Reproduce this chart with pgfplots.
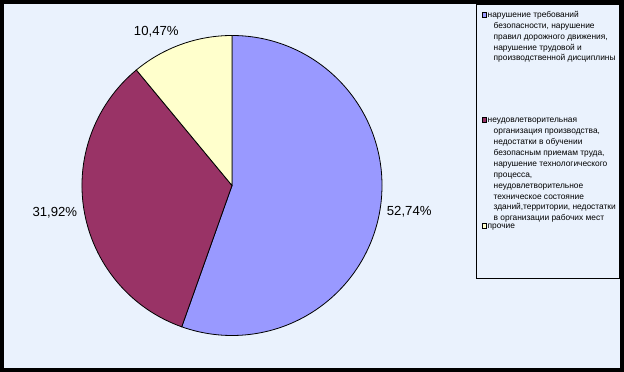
\documentclass[border=0pt]{standalone}
\usepackage{pgfplots}
\pgfplotsset{compat=1.18}
\usepackage{pgfplotstable}
\usepackage{fontspec}
\setmainfont{Liberation Sans}
\definecolor{bgc}{HTML}{EAF2FD}
\definecolor{sblue}{HTML}{9999FF}
\definecolor{smaroon}{HTML}{993366}
\definecolor{syellow}{HTML}{FFFFCC}

\pgfplotstableread{
value
52.74
31.92
10.47
}\piedata
\pgfplotstablegetelem{0}{value}\of\piedata \edef\va{\pgfplotsretval}
\pgfplotstablegetelem{1}{value}\of\piedata \edef\vb{\pgfplotsretval}
\pgfplotstablegetelem{2}{value}\of\piedata \edef\vc{\pgfplotsretval}
\pgfmathsetmacro\sumv{\va+\vb+\vc}
\pgfmathsetmacro\aA{90}
\pgfmathsetmacro\aB{90-360*(\va/\sumv)}
\pgfmathsetmacro\aC{\aB-360*(\vb/\sumv)}
\pgfmathsetmacro\aD{\aC-360*(\vc/\sumv)}
\pgfmathsetmacro\mA{(\aA+\aB)/2}
\pgfmathsetmacro\mB{(\aB+\aC)/2}
\pgfmathsetmacro\mC{(\aC+\aD)/2}
\def\cx{232}\def\cy{186.5}\def\R{150}\def\RL{157}
\pgfmathsetmacro\xA{\cx+\R*cos(\aA)}\pgfmathsetmacro\yA{\cy+\R*sin(\aA)}
\pgfmathsetmacro\xB{\cx+\R*cos(\aB)}\pgfmathsetmacro\yB{\cy+\R*sin(\aB)}
\pgfmathsetmacro\xC{\cx+\R*cos(\aC)}\pgfmathsetmacro\yC{\cy+\R*sin(\aC)}
\pgfmathsetmacro\lxA{\cx+\RL*cos(\mA)}\pgfmathsetmacro\lyA{\cy+\RL*sin(\mA)}
\pgfmathsetmacro\lxB{\cx+\RL*cos(\mB)}\pgfmathsetmacro\lyB{\cy+\RL*sin(\mB)}
\pgfmathsetmacro\lxC{\cx+\RL*cos(\mC)}\pgfmathsetmacro\lyC{\cy+\RL*sin(\mC)}
\tikzset{leg/.style={anchor=base west,inner sep=0,font=\fontsize{8.4}{10}\selectfont},
  pct/.style={inner sep=0,font=\fontsize{13.2}{15}\selectfont}}

\begin{document}
\begin{tikzpicture}
\begin{axis}[at={(0,0)},anchor=south west,scale only axis,width=624bp,height=372bp,
  xmin=0,xmax=624,ymin=0,ymax=372,hide axis,clip=false]
\fill[black] (axis cs:0,0) rectangle (axis cs:624,372);
\fill[bgc] (axis cs:4,3.5) rectangle (axis cs:620,368);
% slices
\filldraw[fill=sblue,draw=black,line width=0.8bp] (axis cs:\cx,\cy) -- (axis cs:\xA,\yA) arc[start angle=\aA,end angle=\aB,radius=\R] -- cycle;
\filldraw[fill=smaroon,draw=black,line width=0.8bp] (axis cs:\cx,\cy) -- (axis cs:\xB,\yB) arc[start angle=\aB,end angle=\aC,radius=\R] -- cycle;
\filldraw[fill=syellow,draw=black,line width=0.8bp] (axis cs:\cx,\cy) -- (axis cs:\xC,\yC) arc[start angle=\aC,end angle=\aD,radius=\R] -- cycle;
% labels
\node[pct,anchor=west] at (axis cs:\lxA,\lyA) {52,74\%};
\node[pct,anchor=east] at (axis cs:\lxB,\lyB) {31,92\%};
\node[pct,anchor=south east] at (axis cs:\lxC,\lyC) {10,47\%};
% legend
\draw[black,line width=0.9bp,fill=bgc] (axis cs:476.5,94) rectangle (axis cs:619.5,368);
\filldraw[fill=sblue,draw=black,line width=0.5bp] (axis cs:482,355.2) rectangle (axis cs:486.5,359.7);
\filldraw[fill=smaroon,draw=black,line width=0.5bp] (axis cs:482,249.8) rectangle (axis cs:486.5,254.3);
\filldraw[fill=syellow,draw=black,line width=0.5bp] (axis cs:482,143.8) rectangle (axis cs:486.5,148.3);
\node[leg] at (axis cs:487.5,354.6) {нарушение требований};
\node[leg] at (axis cs:493.5,343.7) {безопасности, нарушение};
\node[leg] at (axis cs:493.5,332.8) {правил дорожного движения,};
\node[leg] at (axis cs:493.5,321.9) {нарушение трудовой и};
\node[leg] at (axis cs:493.5,311.0) {производственной дисциплины};
\node[leg] at (axis cs:487.5,249.2) {неудовлетворительная};
\node[leg] at (axis cs:493.5,238.3) {организация производства,};
\node[leg] at (axis cs:493.5,227.4) {недостатки в обучении};
\node[leg] at (axis cs:493.5,216.5) {безопасным приемам труда,};
\node[leg] at (axis cs:493.5,205.6) {нарушение технологического};
\node[leg] at (axis cs:493.5,194.7) {процесса,};
\node[leg] at (axis cs:493.5,183.8) {неудовлетворительное};
\node[leg] at (axis cs:493.5,172.9) {техническое состояние};
\node[leg] at (axis cs:493.5,162.0) {зданий,территории, недостатки};
\node[leg] at (axis cs:493.5,151.1) {в организации рабочих мест};
\node[leg] at (axis cs:487.5,143.2) {прочие};
\end{axis}
\end{tikzpicture}
\end{document}
